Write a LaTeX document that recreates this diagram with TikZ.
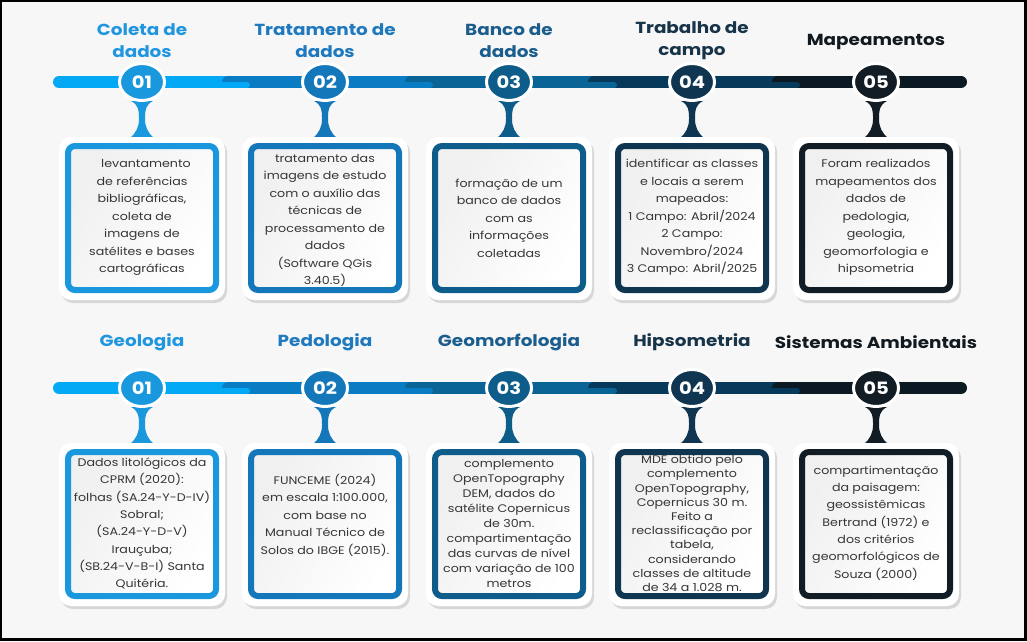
\documentclass[tikz,border=0pt]{standalone}
\usepackage{fontspec}
\setmainfont{Poppins}[FakeStretch=1.15]
\usetikzlibrary{shadows,shapes.geometric}
\definecolor{bgc}{HTML}{F7F7F7}
\definecolor{b1}{HTML}{03A9F4}
\definecolor{b2}{HTML}{0A7CC4}
\definecolor{b3}{HTML}{0A6496}
\definecolor{b4}{HTML}{073A5A}
\definecolor{b5}{HTML}{0B1A22}
\definecolor{c1}{HTML}{1A98DE}
\definecolor{c2}{HTML}{1477BA}
\definecolor{c3}{HTML}{0D5C89}
\definecolor{c4}{HTML}{0F3550}
\definecolor{c5}{HTML}{111C24}
\definecolor{tc1}{HTML}{2196E0}
\definecolor{tc2}{HTML}{1F79BE}
\definecolor{tc3}{HTML}{1B5D8D}
\definecolor{tc4}{HTML}{173449}
\definecolor{tc5}{HTML}{121A20}
\definecolor{bodyc}{HTML}{363636}
\tikzset{
  barline/.style={line width=12pt, line cap=round},
  tabline/.style={line width=6pt, line cap=round},
  numc/.style={ellipse, minimum width=45pt, minimum height=37pt, draw=white, line width=3pt,
    text=white, font=\bfseries\fontsize{17}{17}\selectfont, inner sep=0pt,
    drop shadow={shadow xshift=0pt, shadow yshift=-1pt, opacity=0.35, fill=black!60}},
  outerbox/.style={rectangle, rounded corners=12pt, fill=white, minimum width=166pt, minimum height=163pt,
    inner sep=0pt, drop shadow={shadow xshift=2pt, shadow yshift=-3pt, opacity=0.22, fill=black!60}},
  innerfill/.style={left color=black!6, right color=white, shading angle=60},
  bodytext/.style={align=center, text=bodyc, inner sep=0pt},
  titletext/.style={align=center, font=\bfseries\fontsize{16}{22}\selectfont, inner sep=0pt},
}
% #1 id, #2 cx, #3 bar y, #4 color idx, #5 number, #6 title, #7 body, #8 baselineskip, #9 body centre offset
\newcommand{\stage}[9]{%
  \fill[c#4] ({#2-11},{#3+19}) .. controls ({#2-3},{#3+23}) and ({#2-3},{#3+29}) .. ({#2-3},{#3+37})
     .. controls ({#2-3},{#3+45}) and ({#2-6},{#3+51}) .. ({#2-12},{#3+56}) -- ({#2+12},{#3+56})
     .. controls ({#2+6},{#3+51}) and ({#2+3},{#3+45}) .. ({#2+3},{#3+37})
     .. controls ({#2+3},{#3+29}) and ({#2+3},{#3+23}) .. ({#2+11},{#3+19}) -- cycle;
  \node[outerbox] (#1o) at (#2,{#3+136.5}) {};
  \fill[innerfill, rounded corners=7pt] ({#2-74},{#3+64}) rectangle ({#2+74},{#3+208});
  \begin{scope}
    \clip ({#2-77},{#3+61}) rectangle ({#2+77},{#3+211});
    \node[bodytext, font=\fontsize{11}{#8}\selectfont] (#1b) at (#2,{#3+#9}) {#7};
  \end{scope}
  \draw[line width=6pt, c#4, rounded corners=7pt] ({#2-74},{#3+64}) rectangle ({#2+74},{#3+208});
  \node[numc, fill=c#4] (#1c) at (#2,#3) {#5};
  \node[titletext, text=tc#4] (#1t) at (#2,{#3-\titleoff}) {#6};
}
\newcommand{\bars}[1]{%
  \draw[barline,b1] (59,#1) -- (244,#1);
  \draw[barline,b2] (228,#1) -- (427,#1);
  \draw[barline,b3] (411,#1) -- (611,#1);
  \draw[barline,b4] (594,#1) -- (794,#1);
  \draw[barline,b5] (778,#1) -- (961,#1);
  \draw[tabline,b1] (222,{#1+3}) -- (247,{#1+3});
  \draw[tabline,b2] (405,{#1+3}) -- (430,{#1+3});
  \draw[tabline,b3] (588,{#1+3}) -- (614,{#1+3});
  \draw[tabline,b4] (772,{#1+3}) -- (797,{#1+3});
}
\begin{document}
\begin{tikzpicture}[x=1pt,y=-1pt]
\useasboundingbox (0,0) rectangle (1027,641);
\fill[black] (0,0) rectangle (1027,641);
\fill[bgc] (2,1.5) rectangle (1024,637.5);
% top row
\bars{82}
\def\titleoff{41.5}
\stage{a1}{142}{82}{1}{01}{Coleta de\\dados}{\hspace*{8pt}levantamento\\de referências\\bibliográficas,\\coleta de\\imagens de\\satélites e bases\\cartográficas}{17.5}{135.5}
\stage{a2}{325}{82}{2}{02}{Tratamento de\\dados}{tratamento das\\imagens de estudo\\com o auxílio das\\técnicas de\\processamento de\\dados\\(Software QGis\\3.40.5)}{17.5}{138.5}
\stage{a3}{509}{82}{3}{03}{Banco de\\dados}{formação de um\\banco de dados\\com as\\informações\\coletadas}{17.5}{136}
\stage{a4}{692}{82}{4}{04}{Trabalho de\\campo}{identificar as classes\\e locais a serem\\mapeados:\\1 Campo: Abril/2024\\2 Campo:\\Novembro/2024\\3 Campo: Abril/2025}{17.5}{135.5}
\def\titleoff{40}
\stage{a5}{876}{82}{5}{05}{Mapeamentos}{Foram realizados\\mapeamentos dos\\dados de\\pedologia,\\geologia,\\geomorfologia e\\hipsometria}{17.5}{135.5}
% bottom row
\bars{388}
\def\titleoff{45.5}
\stage{g1}{142}{388}{1}{01}{Geologia}{Dados litológicos da\\CPRM (2020):\\folhas (SA.24-Y-D-IV)\\Sobral;\\(SA.24-Y-D-V)\\Irauçuba;\\(SB.24-V-B-I) Santa\\Quitéria.}{17.3}{135.5}
\stage{g2}{325}{388}{2}{02}{Pedologia}{FUNCEME (2024)\\em escala 1:100.000,\\com base no\\Manual Técnico de\\Solos do IBGE (2015).}{17.5}{127}
\stage{g3}{509}{388}{3}{03}{Geomorfologia}{complemento\\OpenTopography\\DEM, dados do\\satélite Copernicus\\de 30m.\\compartimentação\\das curvas de nível\\com variação de 100\\metros}{14.9}{135.5}
\stage{g4}{692}{388}{4}{04}{Hipsometria}{MDE obtido pelo\\complemento\\OpenTopography,\\Copernicus 30 m.\\Feito a\\reclassificação por\\tabela,\\considerando\\classes de altitude\\de 34 a 1.028 m.}{14.2}{135.5}
\stage{g5}{876}{388}{5}{05}{Sistemas Ambientais}{compartimentação\\da paisagem:\\geossistêmicas\\Bertrand (1972) e\\dos critérios\\geomorfológicos de\\Souza (2000)}{17.3}{135}
\end{tikzpicture}
\end{document}
